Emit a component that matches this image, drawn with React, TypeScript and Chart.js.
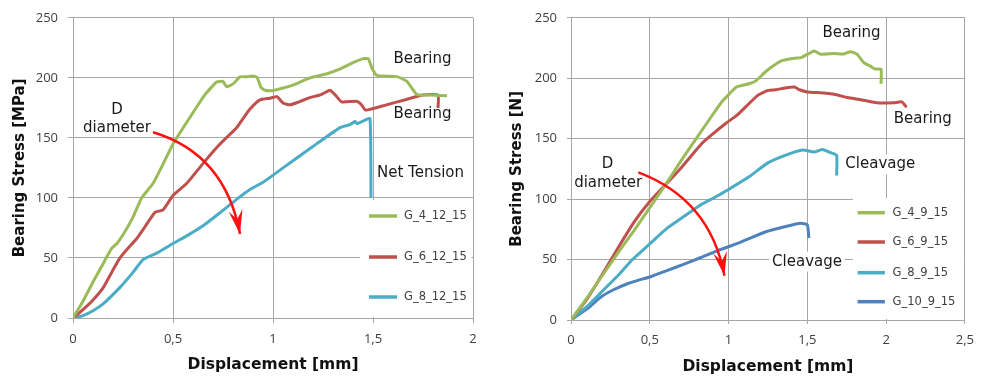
import React, { useEffect, useRef } from 'react';
import { Chart, registerables } from 'chart.js';

Chart.register(...registerables);

// ---------- Left panel data ----------
const leftXTickLabels = ['0', '0,5', '1', '1,5', '2'];
const leftYTickLabels = ['0', '50', '100', '150', '200', '250'];

const G_4_12_15: [number, number][] = [
  [0, 0], [0.05, 14], [0.1, 30], [0.15, 45], [0.193, 58], [0.22, 62], [0.26, 72], [0.3, 84],
  [0.343, 100], [0.4, 112], [0.45, 128], [0.5, 145], [0.6, 171], [0.66, 186], [0.718, 196.5],
  [0.75, 197], [0.768, 192.6], [0.8, 195], [0.835, 200.8], [0.87, 201], [0.9, 201.6], [0.92, 200.5],
  [0.94, 192], [0.96, 189.7], [1.0, 189.5], [1.05, 191.5], [1.1, 194], [1.185, 200], [1.27, 203.4],
  [1.33, 207], [1.385, 211.5], [1.45, 216], [1.477, 215.8], [1.495, 208], [1.52, 202], [1.62, 201],
  [1.67, 197], [1.72, 186], [1.785, 185.7], [1.87, 185],
];
const G_6_12_15: [number, number][] = [
  [0, 0], [0.05, 7], [0.1, 15], [0.152, 25.5], [0.2, 40], [0.235, 50], [0.275, 58], [0.318, 66],
  [0.36, 76], [0.41, 88], [0.45, 90], [0.5, 102], [0.568, 112], [0.652, 129], [0.73, 144],
  [0.818, 158.5], [0.85, 166], [0.885, 174], [0.935, 181.6], [0.985, 183], [1.02, 184.3],
  [1.05, 179], [1.085, 177.5], [1.13, 180], [1.185, 183.5], [1.24, 186], [1.285, 189.7],
  [1.31, 186], [1.343, 180], [1.418, 180.5], [1.44, 178], [1.46, 173.5], [1.48, 173.5],
  [1.567, 177.5], [1.667, 182], [1.75, 185.7], [1.825, 185.7], [1.825, 174.8],
];
const G_8_12_15: [number, number][] = [
  [0, 0], [0.05, 2], [0.1, 6], [0.152, 12], [0.235, 25.5], [0.3, 38], [0.35, 48.6], [0.418, 54],
  [0.5, 62], [0.575, 69], [0.652, 77], [0.73, 87], [0.818, 98.8], [0.885, 107], [0.95, 113],
  [1.05, 125], [1.15, 137], [1.218, 145], [1.335, 158.5], [1.385, 161], [1.41, 163.6], [1.42, 162],
  [1.45, 164], [1.485, 166], [1.49, 100],
];

// ---------- Right panel data ----------
const rightXTickLabels = ['0', '0,5', '1', '1,5', '2', '2,5'];
const rightYTickLabels = ['0', '50', '100', '150', '200', '250'];

const G_4_9_15: [number, number][] = [
  [0, 0], [0.1, 18], [0.2, 37], [0.3, 56], [0.4, 74], [0.5, 93], [0.6, 112], [0.7, 132],
  [0.8, 151], [0.9, 170], [0.96, 181], [0.99, 185], [1.05, 192.7], [1.13, 195.4], [1.175, 198],
  [1.24, 206], [1.335, 214.4], [1.417, 216.6], [1.46, 217], [1.543, 222.6], [1.585, 219.9],
  [1.67, 220.4], [1.73, 220], [1.773, 222], [1.815, 220], [1.858, 213], [1.9, 210], [1.93, 207.6],
  [1.968, 207.6], [1.968, 195.4],
];
const G_6_9_15: [number, number][] = [
  [0, 0], [0.1, 17], [0.2, 38], [0.3, 60], [0.4, 81], [0.5, 98], [0.6, 112], [0.7, 126],
  [0.83, 146], [0.9, 154], [0.986, 163], [1.05, 169], [1.11, 176.5], [1.187, 186], [1.25, 190],
  [1.3, 190.5], [1.335, 191.4], [1.418, 192.7], [1.45, 190.5], [1.5, 188.7], [1.605, 187.8],
  [1.68, 186.5], [1.753, 184], [1.857, 181.8], [1.94, 179.7], [2.045, 179.7], [2.1, 180.5],
  [2.13, 176],
];
const G_8_9_15: [number, number][] = [
  [0, 0], [0.1, 11], [0.2, 24], [0.3, 37], [0.39, 50], [0.5, 63], [0.61, 76], [0.72, 86],
  [0.82, 95], [0.92, 102], [1.0, 108], [1.125, 118], [1.25, 130], [1.376, 137], [1.47, 140.6],
  [1.543, 139], [1.596, 141], [1.648, 138.4], [1.686, 136.3], [1.686, 119.5],
];
const G_10_9_15: [number, number][] = [
  [0, 0], [0.1, 9], [0.19, 19], [0.27, 25], [0.358, 30], [0.43, 33], [0.505, 35.8], [0.6, 40.5],
  [0.714, 46], [0.82, 51.5], [0.923, 57], [1.07, 64], [1.237, 73], [1.35, 77], [1.46, 80],
  [1.5, 78.7], [1.51, 67.8],
];

const GREEN = '#9bbb59';
const RED = '#c0504d';
const CYAN = '#4bacc6';
const BLUE = '#4f81bd';

const FONT = '"DejaVu Sans", sans-serif';
const TICK_FONT = '"Open Sans", "DejaVu Sans", sans-serif';
const GRID = '#a6a6a6';

type Label = { text: string; x: number; y: number; bg?: boolean };

const leftLabels: Label[] = [
  { text: 'Bearing', x: 1.7475, y: 215.8 },
  { text: 'Bearing', x: 1.7475, y: 169.4 },
  { text: 'Net Tension', x: 1.7375, y: 120.5 },
  { text: 'D', x: 0.22, y: 173.5 },
  { text: 'diameter', x: 0.22, y: 158 },
];
const rightLabels: Label[] = [
  { text: 'Bearing', x: 1.781, y: 237 },
  { text: 'Bearing', x: 2.233, y: 166 },
  { text: 'Cleavage', x: 1.963, y: 128.7, bg: true },
  { text: 'Cleavage', x: 1.498, y: 48.3, bg: true },
  { text: 'D', x: 0.232, y: 128.7 },
  { text: 'diameter', x: 0.236, y: 113.2 },
];

// arrow: start, control, end (data coords)
const leftArrow: [number, number][] = [[0.4, 154.7], [0.76, 136.8], [0.835, 70]];
const rightArrow: [number, number][] = [[0.427, 122.1], [0.883, 99.8], [0.974, 36.6]];

type Decor = {
  box: { dx: number; dy: number; w: number; h: number };
  rows: number[];
  line: [number, number];
  textX: number;
  labels: Label[];
  arrow: [number, number][];
};

function makeDecor(cfg: Decor) {
  return {
    id: 'decor',
    beforeDatasetsDraw(chart: any) {
      const { ctx, chartArea: a } = chart;
      ctx.save();
      ctx.fillStyle = '#ffffff';
      ctx.fillRect(a.right + cfg.box.dx, a.bottom + cfg.box.dy, cfg.box.w, cfg.box.h);
      ctx.restore();
    },
    afterDatasetsDraw(chart: any) {
      const { ctx, chartArea: a } = chart;
      const xs = chart.scales.x;
      const ys = chart.scales.y;
      ctx.save();
      // legend
      chart.data.datasets.forEach((ds: any, i: number) => {
        const yy = a.bottom + cfg.rows[i];
        ctx.strokeStyle = ds.borderColor;
        ctx.lineWidth = 3.5;
        ctx.lineCap = 'butt';
        ctx.beginPath();
        ctx.moveTo(a.right + cfg.line[0], yy);
        ctx.lineTo(a.right + cfg.line[1], yy);
        ctx.stroke();
        ctx.fillStyle = '#404040';
        ctx.font = `11.5px ${FONT}`;
        ctx.textAlign = 'left';
        ctx.textBaseline = 'middle';
        ctx.fillText(ds.label, a.right + cfg.textX, yy);
      });
      // labels
      ctx.font = `15px ${FONT}`;
      ctx.textAlign = 'center';
      ctx.textBaseline = 'middle';
      for (const l of cfg.labels) {
        const px = xs.getPixelForValue(l.x);
        const py = ys.getPixelForValue(l.y);
        if (l.bg) {
          const w = ctx.measureText(l.text).width;
          ctx.fillStyle = '#ffffff';
          ctx.fillRect(px - w / 2 - 3, py - 10, w + 6, 20);
        }
        ctx.fillStyle = '#1a1a1a';
        ctx.fillText(l.text, px, py);
      }
      // arrow
      const p = cfg.arrow.map(([x, y]) => [xs.getPixelForValue(x), ys.getPixelForValue(y)]);
      const [s, c, e] = p;
      ctx.strokeStyle = '#ff1010';
      ctx.fillStyle = '#ff1010';
      ctx.lineWidth = 2.5;
      ctx.beginPath();
      ctx.moveTo(s[0], s[1]);
      ctx.quadraticCurveTo(c[0], c[1], e[0], e[1]);
      ctx.stroke();
      const dx = e[0] - c[0];
      const dy = e[1] - c[1];
      const len = Math.hypot(dx, dy);
      const ux = dx / len, uy = dy / len;
      const nx = -uy, ny = ux;
      const L = 24, W = 14;
      const bx = e[0] - ux * L, by = e[1] - uy * L;
      const mx = e[0] - ux * L * 0.62, my = e[1] - uy * L * 0.62;
      ctx.beginPath();
      ctx.moveTo(e[0], e[1]);
      ctx.lineTo(bx + nx * W / 2, by + ny * W / 2);
      ctx.lineTo(mx, my);
      ctx.lineTo(bx - nx * W / 2, by - ny * W / 2);
      ctx.closePath();
      ctx.fill();
      ctx.restore();
    },
  };
}

function ds(label: string, pts: [number, number][], color: string) {
  return {
    label,
    data: pts.map(([x, y]) => ({ x, y })),
    borderColor: color,
    backgroundColor: color,
    borderWidth: 3,
    pointRadius: 0,
    tension: 0.15,
    fill: false,
  };
}

type PanelCfg = {
  width: number;
  xMax: number;
  xTicks: string[];
  yTicks: string[];
  yTitle: string;
  padTop: number;
  padRight: number;
  yWidth: number;
  xHeight: number;
  tickLen: number;
  yTickPad: number;
  yTitlePad: number;
  xTitlePad: number;
  datasets: any[];
  decor: Decor;
};

function Panel({ cfg, left }: { cfg: PanelCfg; left: number }) {
  const ref = useRef<HTMLCanvasElement | null>(null);
  useEffect(() => {
    if (!ref.current) return;
    const chart = new Chart(ref.current, {
      type: 'line',
      data: { datasets: cfg.datasets },
      options: {
        animation: false,
        responsive: false,
        events: [],
        layout: { padding: { top: cfg.padTop, right: cfg.padRight, left: 0, bottom: 0 } },
        plugins: { legend: { display: false }, tooltip: { enabled: false } },
        scales: {
          x: {
            type: 'linear',
            min: 0,
            max: cfg.xMax,
            ticks: {
              stepSize: 0.5,
              color: '#404040',
              font: { family: TICK_FONT, size: 13 },
              padding: 8,
              maxRotation: 0,
              callback: (v: any) => cfg.xTicks[Math.round(Number(v) / 0.5)] ?? '',
            },
            grid: { color: GRID, lineWidth: 1, tickLength: cfg.tickLen },
            border: { color: GRID, width: 1 },
            title: {
              display: true,
              text: 'Displacement [mm]',
              color: '#111111',
              font: { family: FONT, size: 15.5, weight: 'bold' },
              padding: { top: 0, bottom: cfg.xTitlePad },
            },
            afterFit: (s: any) => {
              s.height = cfg.xHeight;
            },
          },
          y: {
            type: 'linear',
            min: 0,
            max: 250,
            ticks: {
              stepSize: 50,
              color: '#404040',
              font: { family: TICK_FONT, size: 13 },
              padding: cfg.yTickPad,
              callback: (v: any) => cfg.yTicks[Math.round(Number(v) / 50)] ?? '',
            },
            grid: { color: GRID, lineWidth: 1, tickLength: cfg.tickLen },
            border: { color: GRID, width: 1 },
            title: {
              display: true,
              text: cfg.yTitle,
              color: '#111111',
              font: { family: FONT, size: 15, weight: 'bold' },
              padding: { top: cfg.yTitlePad, bottom: 0 },
            },
            afterFit: (s: any) => {
              s.width = cfg.yWidth;
            },
          },
        },
      } as any,
      plugins: [makeDecor(cfg.decor) as any],
    });
    return () => chart.destroy();
  }, [cfg]);
  return (
    <canvas
      ref={ref}
      width={cfg.width}
      height={381}
      style={{ position: 'absolute', left, top: 0, width: cfg.width, height: 381 }}
    />
  );
}

const leftCfg: PanelCfg = {
  width: 490,
  xMax: 2,
  xTicks: leftXTickLabels,
  yTicks: leftYTickLabels,
  yTitle: 'Bearing Stress [MPa]',
  padTop: 11,
  padRight: 17,
  yWidth: 73,
  xHeight: 63,
  tickLen: 5,
  yTickPad: 10,
  yTitlePad: 11,
  xTitlePad: 6.7,
  datasets: [ds('G_4_12_15', G_4_12_15, GREEN), ds('G_6_12_15', G_6_12_15, RED), ds('G_8_12_15', G_8_12_15, CYAN)],
  decor: {
    box: { dx: -113, dy: -118, w: 111.5, h: 117 },
    rows: [-102, -61, -21],
    line: [-104, -76],
    textX: -69,
    labels: leftLabels,
    arrow: leftArrow,
  },
};

const rightCfg: PanelCfg = {
  width: 492,
  xMax: 2.5,
  xTicks: rightXTickLabels,
  yTicks: rightYTickLabels,
  yTitle: 'Bearing Stress [N]',
  padTop: 13,
  padRight: 13,
  yWidth: 81,
  xHeight: 61,
  tickLen: 4,
  yTickPad: 10,
  yTitlePad: 17.7,
  xTitlePad: 4.7,
  datasets: [
    ds('G_4_9_15', G_4_9_15, GREEN),
    ds('G_6_9_15', G_6_9_15, RED),
    ds('G_8_9_15', G_8_9_15, CYAN),
    ds('G_10_9_15', G_10_9_15, BLUE),
  ],
  decor: {
    box: { dx: -112, dy: -122, w: 111, h: 121 },
    rows: [-107.3, -78, -47.3, -18.3],
    line: [-107.3, -80],
    textX: -72.3,
    labels: rightLabels,
    arrow: rightArrow,
  },
};

export default function App() {
  return (
    <div style={{ position: 'absolute', left: 0, top: 0, width: 982, height: 381, background: '#ffffff' }}>
      <Panel cfg={leftCfg} left={0} />
      <Panel cfg={rightCfg} left={490} />
    </div>
  );
}
